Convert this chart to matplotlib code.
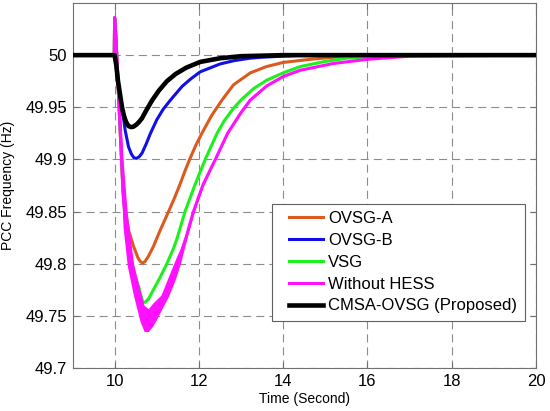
import matplotlib
matplotlib.use("Agg")
import matplotlib.pyplot as plt
from matplotlib.lines import Line2D
from matplotlib.legend_handler import HandlerLine2D
import numpy as np

plt.rcParams['font.family'] = ['Liberation Sans', 'DejaVu Sans']
plt.rcParams['lines.scale_dashes'] = False

# ---- data ----
labels = ["OVSG-A", "OVSG-B", "VSG", "Without HESS", "CMSA-OVSG (Proposed)"]

ovsga_t = [9.0, 9.99, 10.0, 10.03, 10.1, 10.2, 10.25, 10.33, 10.45, 10.55, 10.6, 10.66, 10.72,
           10.8, 10.92, 11.08, 11.18, 11.28, 11.42, 11.56, 11.67, 11.78, 11.92, 12.07, 12.3,
           12.55, 12.82, 13.22, 13.6, 14.0, 14.64, 15.5, 16.5, 20.0]
ovsga_f = [50.0, 50.0, 50.036, 50.018, 49.955, 49.87, 49.853, 49.832, 49.8165, 49.806, 49.8025,
           49.8006, 49.802, 49.807, 49.8165, 49.832, 49.841, 49.85, 49.863, 49.877, 49.889,
           49.90, 49.913, 49.925, 49.942, 49.957, 49.9715, 49.983, 49.989, 49.993, 49.996,
           49.999, 50.0, 50.0]

ovsgb_t = [9.0, 10.0, 10.08, 10.175, 10.25, 10.33, 10.4, 10.46, 10.52, 10.58, 10.65, 10.75,
           10.85, 11.0, 11.15, 11.32, 11.6, 11.8, 12.03, 12.5, 12.82, 13.2, 13.5, 14.5, 20.0]
ovsgb_f = [50.0, 50.0, 49.975, 49.950, 49.928, 49.912, 49.905, 49.9015, 49.901, 49.9025,
           49.906, 49.915, 49.925, 49.938, 49.948, 49.9567, 49.970, 49.977, 49.984, 49.9915,
           49.9946, 49.997, 49.998, 50.0, 50.0]

vsg_t = [9.0, 9.99, 10.0, 10.03, 10.1, 10.2, 10.3, 10.45, 10.57, 10.62, 10.67, 10.72, 10.8,
         10.92, 11.08, 11.24, 11.4, 11.48, 11.67, 11.9, 12.15, 12.43, 12.6, 12.82, 13.0, 13.3,
         13.61, 14.0, 14.4, 15.0, 15.5, 16.5, 20.0]
vsg_f = [50.0, 50.0, 50.036, 50.018, 49.955, 49.868, 49.823, 49.792, 49.778, 49.770, 49.763,
         49.763, 49.766, 49.775, 49.787, 49.80, 49.815, 49.824, 49.85, 49.875, 49.90, 49.925,
         49.937, 49.949, 49.957, 49.968, 49.976, 49.983, 49.989, 49.994, 49.997, 49.9995, 50.0]

# Without HESS: lower / upper envelope of the oscillating trace
nohess_t = [9.0, 9.99, 10.0, 10.03, 10.1, 10.2, 10.3, 10.45, 10.6, 10.7, 10.8, 10.9, 11.0,
            11.1, 11.28, 11.44, 11.56, 11.7, 11.87, 12.1, 12.39, 12.68, 13.0, 13.22, 13.61,
            14.0, 14.4, 15.19, 16.0, 17.0, 20.0]
nohess_lo = [50.0, 50.0, 50.03, 50.0, 49.93, 49.835, 49.798, 49.769, 49.745, 49.735, 49.735,
             49.74, 49.747, 49.755, 49.769, 49.785, 49.80, 49.822, 49.847, 49.874, 49.899,
             49.924, 49.944, 49.956, 49.970, 49.979, 49.985, 49.992, 49.996, 49.999, 50.0]
nohess_hi = [50.0, 50.0, 50.042, 50.035, 49.98, 49.90, 49.848, 49.80, 49.775, 49.760, 49.757,
             49.762, 49.766, 49.770, 49.788, 49.804, 49.815, 49.830, 49.853, 49.878, 49.901,
             49.926, 49.946, 49.958, 49.971, 49.980, 49.986, 49.992, 49.996, 49.999, 50.0]

cmsa_t = [9.0, 10.0, 10.04, 10.08, 10.13, 10.175, 10.22, 10.27, 10.33, 10.39, 10.45, 10.52,
          10.58, 10.65, 10.75, 10.89, 11.05, 11.24, 11.45, 11.7, 12.03, 12.5, 13.0, 14.0, 20.0]
cmsa_f = [50.0, 50.0, 49.99, 49.975, 49.962, 49.950, 49.942, 49.936, 49.932, 49.931, 49.9315,
          49.9335, 49.936, 49.9395, 49.947, 49.9567, 49.966, 49.975, 49.982, 49.988, 49.9935,
          49.997, 49.999, 50.0, 50.0]

xticks = [10, 12, 14, 16, 18, 20]
yticks = [49.7, 49.75, 49.8, 49.85, 49.9, 49.95, 50.0]

# ---- figure ----
fig = plt.figure(figsize=(5.5, 4.11), dpi=100)
ax = fig.add_axes([72.5 / 550, 43 / 411, 463.5 / 550, 365 / 411])

c_orange = '#DC5A1E'
c_blue = '#1010E6'
c_green = '#1EF01E'
c_pink = '#FF10FF'

lw = 2.2
ax.plot(ovsga_t, ovsga_f, color=c_orange, lw=lw, label=labels[0], zorder=3)
ax.plot(ovsgb_t, ovsgb_f, color=c_blue, lw=lw, label=labels[1], zorder=3)
ax.plot(vsg_t, vsg_f, color=c_green, lw=lw, label=labels[2], zorder=3)
lo = np.array(nohess_lo)
hi = np.array(nohess_hi)
ax.fill_between(nohess_t, lo, hi, color=c_pink, lw=0, zorder=3)
ax.plot(nohess_t, (lo + hi) / 2, color=c_pink, lw=lw, label=labels[3], zorder=3)
ax.plot(cmsa_t, cmsa_f, color='black', lw=3.3, label=labels[4], zorder=4)

ax.set_xlim(9, 20)
ax.set_ylim(49.7, 50.05)
ax.set_xticks(xticks)
ax.set_yticks(yticks)
ax.set_xticklabels([f"{v:g}" for v in xticks])
ax.set_yticklabels([f"{v:g}" for v in yticks])

ax.grid(True, color='#8c8c8c', linestyle=(0, (5.8, 3.6)), linewidth=0.8, zorder=1)
ax.set_axisbelow(True)
for s in ax.spines.values():
    s.set_color('#707070')
    s.set_linewidth(0.8)
ax.tick_params(direction='in', length=4, width=0.8, top=True, right=True,
               color='#707070', labelcolor='black', labelsize=12, pad=4)

ax.set_xlabel("Time (Second)", fontsize=10)
ax.set_ylabel("PCC Frequency (Hz)", fontsize=10)
ax.xaxis.set_label_coords(0.5, -0.066)
ax.yaxis.set_label_coords(-0.124, 0.5)

leg = ax.legend(loc='lower right', bbox_to_anchor=(0.976, 0.129), fontsize=12,
                frameon=True, fancybox=False, edgecolor='#606060', framealpha=1,
                borderpad=0.45, labelspacing=0.41, handlelength=3.23, handletextpad=-0.28,
                borderaxespad=0,
                handler_map={Line2D: HandlerLine2D(marker_pad=0.6, numpoints=2)})
leg.get_frame().set_linewidth(0.8)
leg.set_zorder(5)

fig.savefig("out.png", dpi=100)
